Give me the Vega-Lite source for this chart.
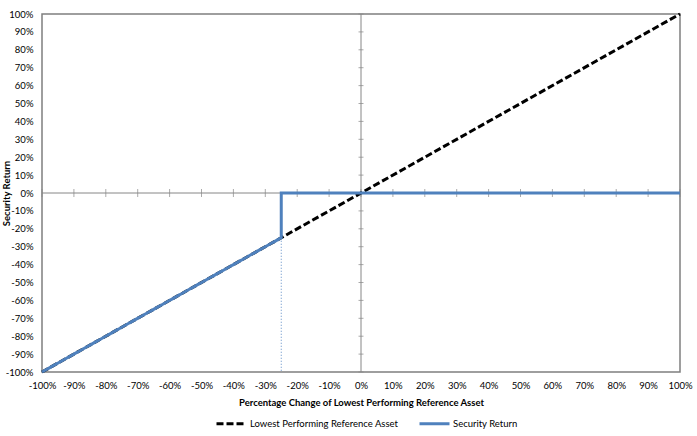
{
  "$schema": "https://vega.github.io/schema/vega-lite/v6.json",
  "width": 638,
  "height": 358,
  "autosize": {"type": "none"},
  "padding": {"left": 42, "top": 14, "right": 17, "bottom": 64},
  "background": "white",
  "config": {
    "view": {"stroke": "#7f7f7f", "strokeWidth": 1.5},
    "font": "Lato",
    "axis": {"grid": false, "domain": false, "ticks": false, "labelOverlap": false, "labelFlush": false, "labelBound": false, "labelFont": "Lato", "labelFontSize": 9.5, "labelColor": "#000", "titleFont": "Lato", "titleFontSize": 9.5, "titleColor": "#000", "titleFontWeight": "bold"}
  },
  "datasets": {
    "series": [
      {"series": "Lowest Performing Reference Asset", "x": -1, "y": -1, "o": 1},
      {"series": "Lowest Performing Reference Asset", "x": 1, "y": 1, "o": 2},
      {"series": "Security Return", "x": -1, "y": -1, "o": 1},
      {"series": "Security Return", "x": -0.25, "y": -0.25, "o": 2},
      {"series": "Security Return", "x": -0.25, "y": 0, "o": 3},
      {"series": "Security Return", "x": 1, "y": 0, "o": 4}
    ],
    "zerolines": [
      {"line": "h", "x": -1, "y": 0, "o": 1},
      {"line": "h", "x": 1, "y": 0, "o": 2},
      {"line": "v", "x": 0, "y": -1, "o": 1},
      {"line": "v", "x": 0, "y": 1, "o": 2}
    ],
    "dotted": [
      {"x": -0.25, "y": -0.25, "o": 1},
      {"x": -0.25, "y": -1, "o": 2}
    ],
    "hticks": [
      {"x": -1, "y": 0}, {"x": -0.9, "y": 0}, {"x": -0.8, "y": 0}, {"x": -0.7, "y": 0}, {"x": -0.6, "y": 0}, {"x": -0.5, "y": 0}, {"x": -0.4, "y": 0}, {"x": -0.3, "y": 0}, {"x": -0.2, "y": 0}, {"x": -0.1, "y": 0}, {"x": 0, "y": 0},
      {"x": 0.1, "y": 0}, {"x": 0.2, "y": 0}, {"x": 0.3, "y": 0}, {"x": 0.4, "y": 0}, {"x": 0.5, "y": 0}, {"x": 0.6, "y": 0}, {"x": 0.7, "y": 0}, {"x": 0.8, "y": 0}, {"x": 0.9, "y": 0}, {"x": 1, "y": 0}
    ],
    "vticks": [
      {"y": -1, "x": 0}, {"y": -0.9, "x": 0}, {"y": -0.8, "x": 0}, {"y": -0.7, "x": 0}, {"y": -0.6, "x": 0}, {"y": -0.5, "x": 0}, {"y": -0.4, "x": 0}, {"y": -0.3, "x": 0}, {"y": -0.2, "x": 0}, {"y": -0.1, "x": 0}, {"y": 0, "x": 0},
      {"y": 0.1, "x": 0}, {"y": 0.2, "x": 0}, {"y": 0.3, "x": 0}, {"y": 0.4, "x": 0}, {"y": 0.5, "x": 0}, {"y": 0.6, "x": 0}, {"y": 0.7, "x": 0}, {"y": 0.8, "x": 0}, {"y": 0.9, "x": 0}, {"y": 1, "x": 0}
    ]
  },
  "encoding": {
    "x": {"field": "x", "type": "quantitative", "scale": {"domain": [-1, 1], "nice": false},
      "axis": {"values": [-1, -0.9, -0.8, -0.7, -0.6, -0.5, -0.4, -0.3, -0.2, -0.1, 0, 0.1, 0.2, 0.3, 0.4, 0.5, 0.6, 0.7, 0.8, 0.9, 1], "labelOverlap": false, "labelFlush": false,
        "labelExpr": "replace(format(datum.value, '.0%'), '\u2212', '-')", "labelPadding": 8, "title": "Percentage Change of Lowest Performing Reference Asset", "titlePadding": 8}},
    "y": {"field": "y", "type": "quantitative", "scale": {"domain": [-1, 1], "nice": false},
      "axis": {"values": [-1, -0.9, -0.8, -0.7, -0.6, -0.5, -0.4, -0.3, -0.2, -0.1, 0, 0.1, 0.2, 0.3, 0.4, 0.5, 0.6, 0.7, 0.8, 0.9, 1], "labelOverlap": false, "labelFlush": false,
        "labelExpr": "replace(format(datum.value, '.0%'), '\u2212', '-')", "labelPadding": 9, "title": "Security Return", "titleX": -31, "titleY": 179}}
  },
  "layer": [
    {
      "data": {"name": "zerolines"},
      "mark": {"type": "line", "color": "#868686", "strokeWidth": 1},
      "encoding": {"detail": {"field": "line"}, "order": {"field": "o"}}
    },
    {
      "data": {"name": "hticks"},
      "mark": {"type": "tick", "orient": "vertical", "color": "#868686", "size": 8, "thickness": 1},
      "encoding": {}
    },
    {
      "data": {"name": "vticks"},
      "mark": {"type": "tick", "orient": "horizontal", "color": "#868686", "size": 5, "thickness": 1},
      "encoding": {}
    },
    {
      "data": {"name": "dotted"},
      "mark": {"type": "line", "color": "#5b8ac4", "strokeWidth": 1, "strokeDash": [1, 2]},
      "encoding": {"order": {"field": "o"}}
    },
    {
      "data": {"name": "series"},
      "mark": {"type": "line", "strokeWidth": 3},
      "encoding": {
        "order": {"field": "o"},
        "color": {"field": "series", "type": "nominal",
          "scale": {"domain": ["Lowest Performing Reference Asset", "Security Return"], "range": ["#000000", "#4f81bd"]},
          "legend": {"orient": "none", "direction": "horizontal", "legendX": 173, "legendY": 393, "title": null, "symbolType": "stroke", "symbolSize": 900, "symbolStrokeWidth": 3, "labelFont": "Lato", "labelFontSize": 9.5, "labelColor": "#000", "columnPadding": 14, "labelOffset": 2}},
        "strokeDash": {"field": "series", "type": "nominal",
          "scale": {"domain": ["Lowest Performing Reference Asset", "Security Return"], "range": [[7, 3], [1, 0]]},
          "legend": null}
      }
    }
  ]
}
